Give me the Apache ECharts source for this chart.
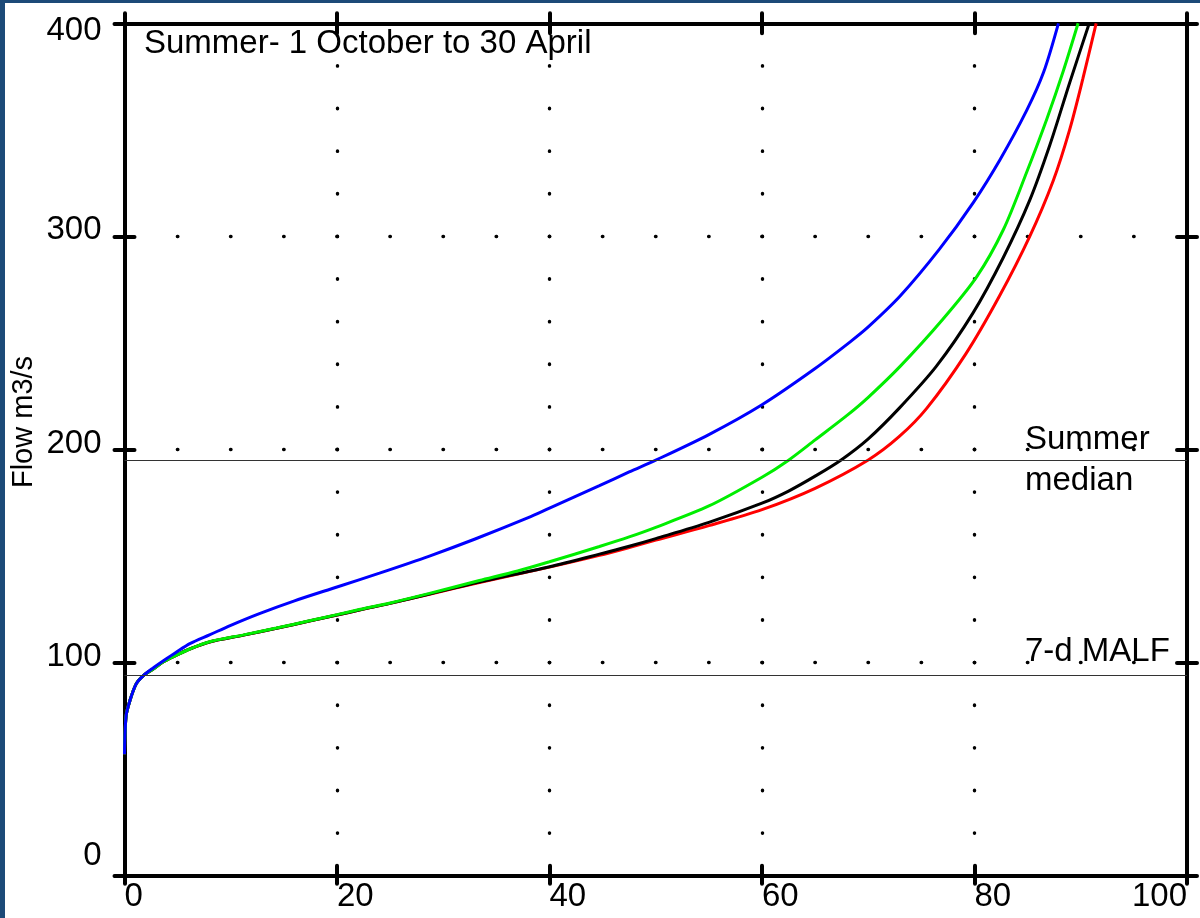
<!DOCTYPE html>
<html>
<head>
<meta charset="utf-8">
<script src="https://cdn.jsdelivr.net/npm/echarts@6/dist/echarts.min.js"></script>
<style>
  html, body { margin: 0; padding: 0; background: #fff; }
  #wrap { position: relative; width: 1200px; height: 918px; overflow: hidden; }
  #chart { position: absolute; left: 0; top: 0; width: 1200px; height: 918px; }
  .edge { position: absolute; background: #1c4a78; }
</style>
</head>
<body>
<div id="wrap">
  <div id="chart"></div>
  <div class="edge" style="left:0;top:0;width:5px;height:918px"></div>
  <div class="edge" style="left:0;top:0;width:1200px;height:3px"></div>
</div>
<script>
// Flow duration curves, summer season: percent of time exceeded vs flow (m3/s)
const pctBlue  = [0, 0.15, 0.5, 1.1, 1.8, 2.7, 3.7, 4.9, 6.2, 8, 10, 12.7, 16, 20, 24, 28.7, 33, 38, 40, 44.7, 47.5, 50, 55, 60, 65, 68.3, 70, 73, 76.7, 79.9, 82.4, 84.9, 86.5, 87.9];
const flowBlue = [57, 75, 82, 90, 94, 97.5, 101, 105, 109, 113, 117.5, 123, 129, 135.5, 142, 150, 158, 168, 172.5, 183, 189.5, 195, 207, 221, 238, 250.5, 257.5, 272, 294, 316, 336, 359, 377, 400];

const pctGreen  = [0, 0.15, 0.5, 1.1, 1.8, 2.7, 3.7, 4.9, 6.2, 8, 11.2, 14.3, 17.4, 20, 22.2, 25, 28.7, 33.4, 37, 40, 44.7, 47.5, 50, 55, 60, 62.5, 65, 68, 70, 73, 77, 80.2, 82.7, 84.9, 86.8, 88.35, 89.75];
const flowGreen = [57, 75, 82, 90, 94, 97, 100.5, 103.5, 106.5, 109.8, 113, 116.2, 119.6, 122.5, 125, 128, 132.5, 138.5, 143, 147.3, 154.5, 159, 163.5, 173.5, 187, 195, 204.5, 216, 224.5, 239, 261, 281, 303, 330, 355, 377.5, 400];

const pctBlack  = [0, 0.15, 0.5, 1.1, 1.8, 2.7, 3.7, 4.9, 6.2, 8, 11.2, 14.3, 17.4, 20, 22.2, 25, 28.7, 33.4, 40, 44.7, 47.5, 50, 55, 60, 62.5, 65, 67.45, 70, 72.9, 76.4, 79.85, 82.7, 85.2, 87.1, 88.95, 90.8];
const flowBlack = [57, 75, 82, 90, 94, 97, 100.5, 103.5, 106.5, 109.7, 112.9, 116.1, 119.5, 122.3, 124.8, 127.8, 132.2, 137.8, 145, 150.9, 154.6, 158.2, 165.8, 174.8, 180.5, 187.5, 195.1, 205, 219.3, 239, 264, 290, 317, 343, 372, 400];

const pctRed  = [0, 0.15, 0.5, 1.1, 1.8, 2.7, 3.7, 4.9, 6.2, 8, 11.2, 14.3, 17.4, 20, 22.2, 25, 28.7, 33.4, 40, 44.7, 47.5, 50, 55, 60, 65, 70, 72.9, 75.5, 79.2, 82.35, 85.2, 87.4, 88.95, 90.2, 91.45];
const flowRed = [57, 75, 82, 90, 94, 97, 100.5, 103.5, 106.5, 109.7, 112.9, 116.1, 119.5, 122.3, 124.8, 127.8, 132.1, 137.6, 144.8, 150.3, 154, 157.5, 164.3, 171.8, 181.8, 195.1, 206, 219.3, 245, 272, 300, 326, 350, 374, 400];

// Reference flows drawn as horizontal lines
const refFlows  = [195.1, 94];
const refLabels = ['Summer\nmedian', '7-d MALF'];

const titleText = 'Summer- 1 October to 30 April';
const yName = 'Flow m3/s';

const FONT = "'Liberation Sans', Arial, sans-serif";
const INK = '#000';

function pairs(xs, ys) { return xs.map((x, i) => [x, ys[i]]); }

const tickStyle = { color: INK, width: 4, cap: 'round' };

function xAxisDef(position, inside, primary) {
  return {
    type: 'value', position, min: 0, max: 100, interval: 20,
    axisLine: { show: !inside, onZero: false, lineStyle: { color: INK, width: 4 } },
    axisTick: { show: true, inside, length: position === 'bottom' && !inside ? 8 : 10, lineStyle: tickStyle },
    axisLabel: primary ? {
      show: true, margin: 5, align: 'left', alignMaxLabel: 'right',
      fontSize: 33, color: INK, fontFamily: FONT
    } : { show: false },
    splitLine: primary ? {
      show: true, showMinLine: false, showMaxLine: false,
      lineStyle: { color: INK, width: 3.4, type: [0.5, 42.12], dashOffset: 0.25, cap: 'round' }
    } : { show: false }
  };
}

function yLabel(v) {
  if (v === 0) return '{lo|' + v + '}';
  if (v === 400) return '{hi|' + v + '}';
  return '{md|' + v + '}';
}

function yAxisDef(position, inside, primary) {
  const txt = { fontSize: 33, color: INK, fontFamily: FONT, lineHeight: 33 };
  return {
    type: 'value', position, min: 0, max: 400, interval: 100,
    axisLine: { show: !inside, onZero: false, lineStyle: { color: INK, width: 4 } },
    axisTick: { show: true, inside, length: 10, lineStyle: tickStyle },
    axisLabel: primary ? {
      show: true, margin: 23, color: INK, fontFamily: FONT, fontSize: 33,
      verticalAlign: 'middle',
      formatter: yLabel,
      rich: {
        lo: Object.assign({ padding: [0, 0, 40, 0] }, txt),
        md: Object.assign({ padding: [0, 0, 12, 0] }, txt),
        hi: Object.assign({ padding: [16, 0, 0, 0] }, txt)
      }
    } : { show: false },
    splitLine: primary ? {
      show: true, showMinLine: false, showMaxLine: false,
      lineStyle: { color: INK, width: 3.4, type: [0.5, 52.625], dashOffset: 0.25, cap: 'round' }
    } : { show: false },
    name: primary ? yName : '',
    nameLocation: 'middle', nameGap: 86, nameMoveOverlap: false,
    nameTextStyle: { fontSize: 29, color: INK, fontFamily: FONT, padding: [0, 0, 0, 55] }
  };
}

function curve(name, color, data, extra) {
  return Object.assign({
    name, type: 'line', data, showSymbol: false, symbol: 'none',
    smooth: 0.3,
    lineStyle: { color, width: 3 }, silent: true
  }, extra || {});
}

const chart = echarts.init(document.getElementById('chart'), null, { renderer: 'canvas' });

chart.setOption({
  animation: false,
  backgroundColor: '#fff',
  title: {
    text: titleText, left: 144, top: 27, padding: 0,
    textStyle: { fontSize: 33, fontWeight: 'normal', color: INK, fontFamily: FONT }
  },
  grid: { left: 124.5, right: 13, top: 23.3, bottom: 42.3, containLabel: false, outerBoundsMode: 'none' },
  xAxis: [
    xAxisDef('bottom', false, true),
    xAxisDef('bottom', true, false),
    xAxisDef('top', false, false),
    xAxisDef('top', true, false)
  ],
  yAxis: [
    yAxisDef('left', false, true),
    yAxisDef('left', true, false),
    yAxisDef('right', false, false),
    yAxisDef('right', true, false)
  ],
  series: [
    curve('red', '#ff0000', pairs(pctRed, flowRed), {
      markLine: {
        silent: true, symbol: ['none', 'none'],
        lineStyle: { color: '#333', width: 1.2, type: 'solid' },
        data: [
          {
            yAxis: refFlows[0],
            label: {
              formatter: refLabels[0], position: 'insideEnd', align: 'left',
              distance: [162, 0], fontSize: 33, lineHeight: 41, color: INK,
              fontFamily: FONT, padding: [0, 0, 8, 0]
            }
          },
          {
            yAxis: refFlows[1],
            label: {
              formatter: refLabels[1], position: 'insideEndTop', align: 'left',
              distance: [162, 7], fontSize: 33, color: INK, fontFamily: FONT
            }
          }
        ]
      }
    }),
    curve('black', '#000000', pairs(pctBlack, flowBlack)),
    curve('green', '#00ee00', pairs(pctGreen, flowGreen)),
    curve('blue', '#0000ff', pairs(pctBlue, flowBlue))
  ]
});
</script>
</body>
</html>
